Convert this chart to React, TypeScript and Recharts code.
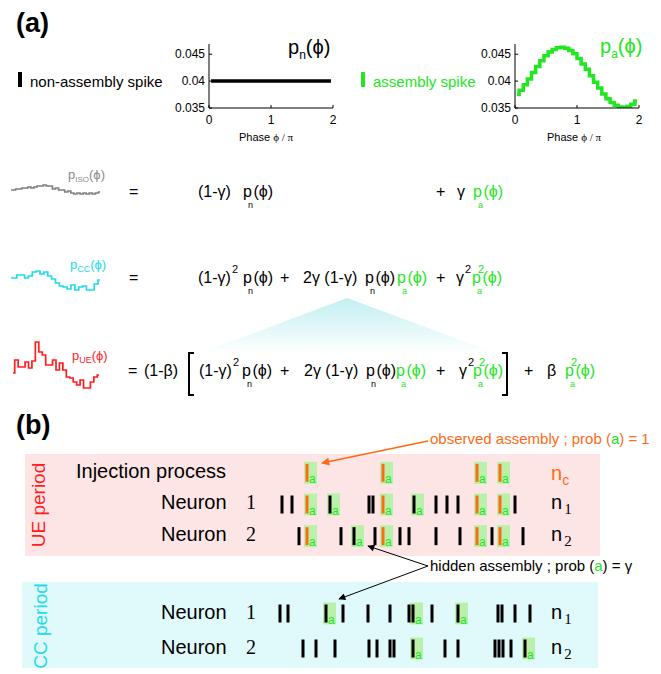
import React from "react";
import { LineChart, Line, XAxis, YAxis, ScatterChart, Scatter } from "recharts";

const FONT = '"Liberation Sans", Arial, Helvetica, sans-serif';
const SERIF = '"Liberation Serif", "Times New Roman", serif';
const GREEN = "#22e622";
const ORANGE = "#ff6a14";
const BOX_GREEN = "#b9f1aa";
const CYAN = "#22dcea";
const RED = "#ff1e1e";

// phase bins (units of pi) for the two reference distributions
const phaseBins = [0.033, 0.1, 0.167, 0.233, 0.3, 0.367, 0.433, 0.5, 0.567, 0.633, 0.7, 0.767, 0.833, 0.9, 0.967, 1.033, 1.1, 1.167, 1.233, 1.3, 1.367, 1.433, 1.5, 1.567, 1.633, 1.7, 1.767, 1.833, 1.9, 1.967];
const phaseTicks = [0, 1, 2];
const probTicks = [0.035, 0.04, 0.045];

const pnValues = [0.04, 0.04, 0.04, 0.04, 0.04, 0.04, 0.04, 0.04, 0.04, 0.04, 0.04, 0.04, 0.04, 0.04, 0.04, 0.04, 0.04, 0.04, 0.04, 0.04, 0.04, 0.04, 0.04, 0.04, 0.04, 0.04, 0.04, 0.04, 0.04, 0.04];
const paValues = [0.0375, 0.0383, 0.0393, 0.0404, 0.0416, 0.0427, 0.0438, 0.0447, 0.0454, 0.0459, 0.0462, 0.0463, 0.0461, 0.0457, 0.0451, 0.0442, 0.0432, 0.0422, 0.041, 0.0398, 0.0387, 0.0376, 0.0367, 0.036, 0.0355, 0.0352, 0.0351, 0.0353, 0.0357, 0.0363];

// small mixture sketches on the left
const isoValues = [0.04, 0.04, 0.0402, 0.0402, 0.0404, 0.0404, 0.0406, 0.0404, 0.0406, 0.0408, 0.0408, 0.041, 0.0408, 0.0408, 0.0402, 0.0404, 0.04, 0.04, 0.0396, 0.0398, 0.0394, 0.0392, 0.0394, 0.0392, 0.0394, 0.0392, 0.0394, 0.0392, 0.0394, 0.0396];
const ccValues = [0.0404, 0.0404, 0.041, 0.041, 0.0404, 0.0408, 0.0416, 0.0418, 0.0412, 0.0416, 0.0408, 0.0402, 0.0394, 0.0388, 0.0386, 0.0382, 0.039, 0.038, 0.0386, 0.0388, 0.038, 0.038, 0.0392, 0.04];
const ueValues = [0.0394, 0.042, 0.0406, 0.0406, 0.0416, 0.0404, 0.0418, 0.0456, 0.0436, 0.043, 0.041, 0.041, 0.042, 0.04, 0.0414, 0.04, 0.0386, 0.0384, 0.0376, 0.037, 0.038, 0.0364, 0.0364, 0.0376, 0.0386, 0.039];

// spike times (ms) — UE period: row 0 injection, 1 neuron 1, 2 neuron 2
const injTimes = [37, 113, 207, 230];
const ue1Plain = [12, 22, 99, 103, 166, 177, 188, 245];
const ue1Hidden = [60, 144];
const ue2Plain = [29, 71, 105, 130, 139, 166, 190, 222, 253];
const ue2Hidden = [84];
// CC period: row 0 neuron 1, 1 neuron 2
const cc1Plain = [10, 18, 73, 98, 120, 139, 162, 228, 232, 245, 260];
const cc1Hidden = [56, 143, 188];
const cc2Plain = [33, 46, 65, 99, 107, 120, 124, 175, 188, 225, 229, 233, 241];
const cc2Hidden = [143, 255];

const pts = (times: number[], row: number) => times.map((t) => ({ t, row }));

function Tok({ x, y, size = 16, color = "#000", family = FONT, weight = 400, children }: any) {
  return (
    <div style={{ position: "absolute", left: x, top: y - size * 0.58, fontSize: size, lineHeight: `${size}px`, color, fontFamily: family, fontWeight: weight, whiteSpace: "nowrap" }}>
      {children}
    </div>
  );
}

/** p_x(phi) as written in the equations: subscript tucked under the p. */
function P({ sub, sup, color = "#000" }: any) {
  return (
    <span style={{ position: "relative", color }}>
      p
      <span style={{ position: "absolute", left: 5, top: 18, fontSize: 9, lineHeight: "9px" }}>{sub}</span>
      {sup ? <span style={{ position: "absolute", left: 6, top: -5, fontSize: 11, lineHeight: "11px" }}>{sup}</span> : null}
      <span style={{ marginLeft: 1.5 }}>(ϕ)</span>
    </span>
  );
}

const Sup = ({ children }: any) => <span style={{ position: "relative", top: -10, fontSize: 11, marginLeft: 1 }}>{children}</span>;

/** p_x(phi) with an ordinary subscript (titles, sketch labels). */
function Lbl({ x, y, sub, color, size, subSize, subDy }: any) {
  return (
    <Tok x={x} y={y} size={size} color={color}>
      p<span style={{ fontSize: subSize, position: "relative", top: subDy }}>{sub}</span>(ϕ)
    </Tok>
  );
}

function PhaseChart({ left, values, color }: any) {
  const rows = phaseBins.map((phase, i) => ({ phase, p: values[i] }));
  const tick = { fontSize: 12, fill: "#000", fontFamily: FONT };
  return (
    <div style={{ position: "absolute", left, top: 30 }}>
      <LineChart width={200} height={120} data={rows} margin={{ top: 14, right: 17, bottom: 12, left: 0 }}>
        <XAxis type="number" dataKey="phase" domain={[0, 2]} ticks={phaseTicks} tick={tick} tickSize={-3} tickMargin={10} height={30} axisLine={{ stroke: "#000" }} tickLine={{ stroke: "#000" }} />
        <YAxis type="number" domain={[0.035, 0.0469]} ticks={probTicks} tick={tick} tickSize={-3} tickMargin={7} width={59} allowDataOverflow axisLine={{ stroke: "#000" }} tickLine={{ stroke: "#000" }} />
        <Line type="step" dataKey="p" stroke={color} strokeWidth={3.5} dot={false} isAnimationActive={false} />
      </LineChart>
    </div>
  );
}

function Sketch({ left, top, width, height, values, domain, color }: any) {
  const rows = values.map((p: number, bin: number) => ({ bin, p }));
  return (
    <div style={{ position: "absolute", left, top }}>
      <LineChart width={width} height={height} data={rows} margin={{ top: 0, right: 0, bottom: 0, left: 0 }}>
        <XAxis type="number" dataKey="bin" domain={[0, values.length - 1]} hide />
        <YAxis type="number" domain={domain} hide allowDataOverflow />
        <Line type="step" dataKey="p" stroke={color} strokeWidth={1.7} dot={false} isAnimationActive={false} />
      </LineChart>
    </div>
  );
}

const plainSpike = (p: any) => <rect x={p.cx - 1.5} y={p.cy - 9} width={3} height={18} fill="#000" />;
const assemblySpike = (color: string) => (p: any) => (
  <g>
    <rect x={p.cx - 3} y={p.cy - 11} width={13} height={22} fill={BOX_GREEN} />
    <rect x={p.cx - 1.5} y={p.cy - 9} width={3} height={18} fill={color} />
    <text x={p.cx + 2} y={p.cy + 10} fontSize={12} fill={GREEN} fontFamily={FONT}>a</text>
  </g>
);

function Raster({ left, top, width, height, margin, rowsN, bg, plain, hidden, observed }: any) {
  return (
    <div style={{ position: "absolute", left, top, width, height, background: bg }}>
      <ScatterChart width={width} height={height} margin={margin}>
        <XAxis type="number" dataKey="t" domain={[0, 270]} hide />
        <YAxis type="number" dataKey="row" domain={[-0.5, rowsN - 0.5]} reversed hide />
        <Scatter data={observed} shape={assemblySpike(ORANGE)} isAnimationActive={false} />
        <Scatter data={hidden} shape={assemblySpike("#000")} isAnimationActive={false} />
        <Scatter data={plain} shape={plainSpike} isAnimationActive={false} />
      </ScatterChart>
    </div>
  );
}

function NeuronLabel({ y, n }: any) {
  return (
    <>
      <Tok x={161} y={y} size={20}>Neuron</Tok>
      <Tok x={246} y={y} size={20} family={SERIF}>{n}</Tok>
      <Tok x={551} y={y} size={20}>
        n<span style={{ fontFamily: SERIF, fontSize: 15, position: "relative", top: 5, marginLeft: 2 }}>{n}</span>
      </Tok>
    </>
  );
}

export default function App() {
  const ueObserved = [...pts(injTimes, 0), ...pts(injTimes, 1), ...pts(injTimes, 2)];
  const uePlain = [...pts(ue1Plain, 1), ...pts(ue2Plain, 2)];
  const ueHidden = [...pts(ue1Hidden, 1), ...pts(ue2Hidden, 2)];
  const ccPlain = [...pts(cc1Plain, 0), ...pts(cc2Plain, 1)];
  const ccHidden = [...pts(cc1Hidden, 0), ...pts(cc2Hidden, 1)];

  return (
    <div style={{ position: "absolute", left: 0, top: 0, width: 661, height: 674, background: "#fff", fontFamily: FONT, overflow: "hidden" }}>
      {/* fan from the CC row down to the UE bracket */}
      <svg width={661} height={674} style={{ position: "absolute", left: 0, top: 0 }}>
        <defs>
          <linearGradient id="fan" x1="0" y1="0" x2="0" y2="1">
            <stop offset="0" stopColor="#c2eff1" />
            <stop offset="1" stopColor="#ffffff" />
          </linearGradient>
        </defs>
        <polygon points="347,298 198,354 498,354" fill="url(#fan)" />
      </svg>

      {/* ---------- panel (a) ---------- */}
      <Tok x={16} y={26} size={27} weight={700}>(a)</Tok>
      <div style={{ position: "absolute", left: 18, top: 72, width: 4, height: 15, background: "#000" }} />
      <Tok x={30} y={83} size={15}>non-assembly spike</Tok>
      <div style={{ position: "absolute", left: 361, top: 72, width: 4, height: 15, background: GREEN }} />
      <Tok x={373} y={83} size={15} color={GREEN}>assembly spike</Tok>

      <PhaseChart left={150} values={pnValues} color="#000" />
      <PhaseChart left={456} values={paValues} color={GREEN} />
      <Lbl x={288} y={49} sub="n" color="#000" size={20} subSize={12} subDy={5} />
      <Lbl x={600} y={48} sub="a" color={GREEN} size={20} subSize={12} subDy={5} />
      <Tok x={239} y={138} size={11}>Phase <span style={{ fontFamily: SERIF }}>ϕ / π</span></Tok>
      <Tok x={547} y={138} size={11}>Phase <span style={{ fontFamily: SERIF }}>ϕ / π</span></Tok>

      <Sketch left={11} top={183} width={89} height={14} values={isoValues} domain={[0.0386, 0.0414]} color="#808080" />
      <Sketch left={11} top={268} width={89} height={24} values={ccValues} domain={[0.0376, 0.0424]} color={CYAN} />
      <Sketch left={13} top={340} width={86} height={52} values={ueValues} domain={[0.0356, 0.046]} color={RED} />
      <Lbl x={68} y={176} sub="ISO" color="#8a8a8a" size={13} subSize={8} subDy={3} />
      <Lbl x={70} y={266} sub="CC" color={CYAN} size={13} subSize={9} subDy={3} />
      <Lbl x={72} y={357} sub="UE" color={RED} size={13} subSize={9} subDy={3} />

      {/* p_ISO */}
      <Tok x={129} y={193}>=</Tok>
      <Tok x={198} y={193}>(1-γ)</Tok>
      <Tok x={243} y={193}><P sub="n" /></Tok>
      <Tok x={436} y={193}>+</Tok>
      <Tok x={457} y={193}>γ</Tok>
      <Tok x={473} y={193}><P sub="a" color={GREEN} /></Tok>

      {/* p_CC */}
      <Tok x={129} y={279}>=</Tok>
      <Tok x={198} y={279}>(1-γ)<Sup>2</Sup></Tok>
      <Tok x={243} y={279}><P sub="n" /></Tok>
      <Tok x={280} y={279}>+</Tok>
      <Tok x={303} y={279}>2γ (1-γ)</Tok>
      <Tok x={365} y={279}><P sub="n" /></Tok>
      <Tok x={397} y={279}><P sub="a" color={GREEN} /></Tok>
      <Tok x={436} y={279}>+</Tok>
      <Tok x={456} y={279}>γ<Sup>2</Sup></Tok>
      <Tok x={472} y={279}><P sub="a" sup="2" color={GREEN} /></Tok>

      {/* p_UE */}
      <Tok x={128} y={372}>=</Tok>
      <Tok x={144} y={372}>(1-β)</Tok>
      <div style={{ position: "absolute", left: 188, top: 352, width: 4, height: 40, borderLeft: "2.5px solid #000", borderTop: "2.5px solid #000", borderBottom: "2.5px solid #000" }} />
      <Tok x={199} y={372}>(1-γ)<Sup>2</Sup></Tok>
      <Tok x={242} y={372}><P sub="n" /></Tok>
      <Tok x={280} y={372}>+</Tok>
      <Tok x={304} y={372}>2γ (1-γ)</Tok>
      <Tok x={366} y={372}><P sub="n" /></Tok>
      <Tok x={396} y={372}><P sub="a" color={GREEN} /></Tok>
      <Tok x={436} y={372}>+</Tok>
      <Tok x={459} y={372}>γ<Sup>2</Sup></Tok>
      <Tok x={473} y={372}><P sub="a" sup="2" color={GREEN} /></Tok>
      <div style={{ position: "absolute", left: 502, top: 352, width: 4, height: 40, borderRight: "2.5px solid #000", borderTop: "2.5px solid #000", borderBottom: "2.5px solid #000" }} />
      <Tok x={524} y={372}>+</Tok>
      <Tok x={547} y={372}>β</Tok>
      <Tok x={565} y={372}><P sub="a" sup="2" color={GREEN} /></Tok>

      {/* ---------- panel (b) ---------- */}
      <Tok x={16} y={428} size={27} weight={700}>(b)</Tok>
      <Raster left={25} top={454} width={575} height={102} margin={{ top: 3, right: 60, bottom: 4, left: 245 }} rowsN={3} bg="#fde5e5" plain={uePlain} hidden={ueHidden} observed={ueObserved} />
      <Raster left={22} top={582} width={576} height={86} margin={{ top: 14, right: 58, bottom: 2, left: 248 }} rowsN={2} bg="#e0fafc" plain={ccPlain} hidden={ccHidden} observed={[]} />

      <div style={{ position: "absolute", left: 39, top: 505, transform: "translate(-50%,-50%) rotate(-90deg)", color: RED, fontSize: 19, whiteSpace: "nowrap" }}>UE period</div>
      <div style={{ position: "absolute", left: 41, top: 626, transform: "translate(-50%,-50%) rotate(-90deg)", color: CYAN, fontSize: 19, whiteSpace: "nowrap" }}>CC period</div>

      <Tok x={76} y={473} size={20}>Injection process</Tok>
      <Tok x={551} y={475} size={20} color={ORANGE}>
        n<span style={{ fontSize: 14, position: "relative", top: 5 }}>c</span>
      </Tok>
      <NeuronLabel y={504} n="1" />
      <NeuronLabel y={536} n="2" />
      <NeuronLabel y={614} n="1" />
      <NeuronLabel y={649} n="2" />

      <Tok x={430} y={440} size={15} color={ORANGE}>
        observed assembly ; prob (<span style={{ color: GREEN }}>a</span>) = 1
      </Tok>
      <Tok x={430} y={567} size={15}>
        hidden assembly ; prob (<span style={{ color: GREEN }}>a</span>) = γ
      </Tok>

      <svg width={661} height={674} style={{ position: "absolute", left: 0, top: 0, pointerEvents: "none" }}>
        <defs>
          <marker id="headO" viewBox="0 0 10 10" refX="9" refY="5" markerUnits="userSpaceOnUse" markerWidth="10" markerHeight="8" orient="auto">
            <path d="M0,0 L10,5 L0,10 z" fill={ORANGE} />
          </marker>
          <marker id="headK" viewBox="0 0 10 10" refX="9" refY="5" markerUnits="userSpaceOnUse" markerWidth="9" markerHeight="7" orient="auto">
            <path d="M0,0 L10,5 L0,10 z" fill="#000" />
          </marker>
        </defs>
        <line x1={428} y1={441} x2={322} y2={463} stroke={ORANGE} strokeWidth={1.6} markerEnd="url(#headO)" />
        <line x1={428} y1={566} x2={368} y2={546} stroke="#000" strokeWidth={1} markerEnd="url(#headK)" />
        <line x1={428} y1={566} x2={339} y2={599} stroke="#000" strokeWidth={1} markerEnd="url(#headK)" />
      </svg>
    </div>
  );
}
